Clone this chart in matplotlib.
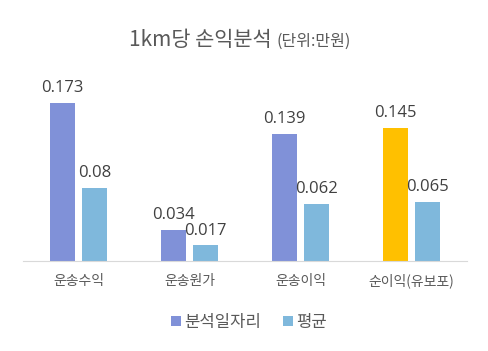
import matplotlib
matplotlib.use("Agg")
import matplotlib.pyplot as plt
import numpy as np
from matplotlib.lines import Line2D

plt.rcParams['font.family'] = ['Noto Sans CJK KR', 'DejaVu Sans']

categories = ['운송수익', '운송원가', '운송이익', '순이익(유보포)']
series_names = ['분석일자리', '평균']
analysis_vals = [0.173, 0.034, 0.139, 0.145]
average_vals = [0.08, 0.017, 0.062, 0.065]
label_analysis = ['0.173', '0.034', '0.139', '0.145']
label_average = ['0.08', '0.017', '0.062', '0.065']

c_purple = '#8091D8'
c_blue = '#7FB8DC'
c_gold = '#FFC000'
txt = '#595959'

fig = plt.figure(figsize=(4.88, 3.51), dpi=100)
ax = fig.add_axes([23/488, 1-261/351, (467-23)/488, (261-78)/351])

x = np.arange(len(categories))
w = 0.225
off = 0.144
colors1 = [c_purple, c_purple, c_purple, c_gold]
b1 = ax.bar(x - off, analysis_vals, w, color=colors1)
b2 = ax.bar(x + off, average_vals, w, color=c_blue)

for bars, labs in ((b1, label_analysis), (b2, label_average)):
    for r, lab in zip(bars, labs):
        ax.annotate(lab, (r.get_x() + r.get_width()/2, r.get_height()),
                    xytext=(0, 5), textcoords='offset points',
                    ha='center', va='bottom', fontsize=12, color='#404040',
                    family=['Open Sans', 'DejaVu Sans'])

ax.set_xlim(-0.5, len(categories) - 0.5)
ax.set_ylim(0, 0.2)
ax.set_yticks([])
ax.set_xticks(x)
ax.set_xticklabels(categories, fontsize=10, color=txt)
ax.tick_params(axis='x', length=0, pad=9)
for s in ['top', 'right', 'left']:
    ax.spines[s].set_visible(False)
ax.spines['bottom'].set_color('#D9D9D9')

fig.text(272/488, 1-46/351, '1km당 손익분석', ha='right', va='baseline',
         fontsize=15, color=txt)
fig.text(276/488, 1-46/351, '(단위:만원)', ha='left', va='baseline',
         fontsize=11.5, color=txt)

handles = [Line2D([], [], marker='s', linestyle='none', markersize=7,
                  color=c, markeredgewidth=0) for c in (c_purple, c_blue)]
fig.legend(handles, series_names, loc='center', bbox_to_anchor=(248/488, 1-322/351),
           ncol=2, frameon=False, fontsize=12, labelcolor=txt,
           handletextpad=0.1, columnspacing=1.2, handlelength=0.8)

fig.savefig('out.png', dpi=100)
